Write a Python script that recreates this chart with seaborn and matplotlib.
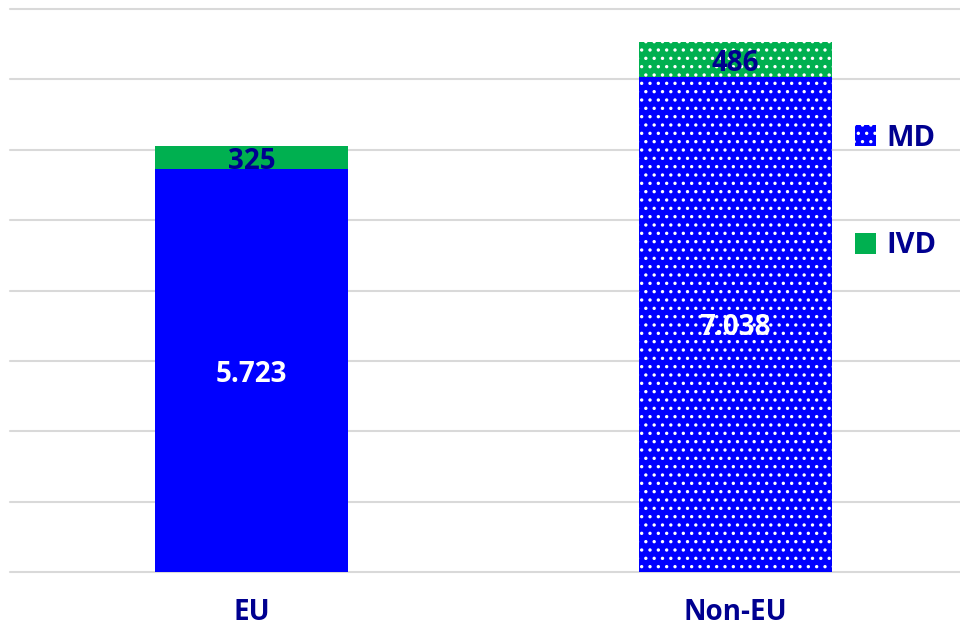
import numpy as np
import pandas as pd
import seaborn as sns
import matplotlib.pyplot as plt
from matplotlib.patches import Patch

# data
regions = ['EU', 'Non-EU']
md_values = [5723, 7038]
ivd_values = [325, 486]
legend_labels = ['MD', 'IVD']

blue = '#0000FF'
green = '#00B050'
navy = '#000090'

sns.set_theme(style='white')
plt.rcParams['font.family'] = ['Open Sans', 'DejaVu Sans']
plt.rcParams['hatch.color'] = 'white'
plt.rcParams['hatch.linewidth'] = 1.2

df = pd.DataFrame({'region': regions, 'MD': md_values, 'IVD': ivd_values})
df['total'] = df['MD'] + df['IVD']

fig = plt.figure(figsize=(9.6, 6.26), dpi=100)
ax = fig.add_axes([10 / 960, 1 - 572 / 626, 950 / 960, (572 - 9) / 626])

# stacked bars: draw totals in green, then MD on top in blue
sns.barplot(data=df, x='region', y='total', color=green, width=0.4,
            saturation=1, ax=ax, zorder=2, linewidth=0)
sns.barplot(data=df, x='region', y='MD', color=blue, width=0.4,
            saturation=1, ax=ax, zorder=3, linewidth=0)

# the Non-EU bars have the white dotted pattern
for p in ax.patches:
    if abs(p.get_x() + p.get_width() / 2 - 1) < 0.01:
        p.set_hatch('..')
        p.set_edgecolor('white')
        p.set_linewidth(0)

ax.set_ylim(0, 8000)
ax.set_xlim(-0.499, 1.464)
ax.set_yticks(np.arange(0, 8001, 1000))
ax.yaxis.grid(True, color='#d9d9d9', linewidth=1.5, zorder=0)
for gl in ax.get_ygridlines():
    gl.set_clip_on(False)
ax.set_axisbelow(True)
ax.tick_params(axis='y', left=False, labelleft=False)
ax.tick_params(axis='x', bottom=False, pad=13)
for lbl in ax.get_xticklabels():
    lbl.set_fontsize(20)
    lbl.set_fontweight('bold')
    lbl.set_color(navy)
ax.set_xlabel('')
ax.set_ylabel('')
sns.despine(ax=ax, left=True, bottom=True)

# value labels
for i in range(len(regions)):
    md = md_values[i]
    ivd = ivd_values[i]
    ax.text(i, md / 2, f'{md / 1000:.3f}', ha='center', va='center_baseline',
            color='white', fontsize=20, fontweight='bold', zorder=5)
    ax.text(i, md + ivd / 2, str(ivd), ha='center', va='center_baseline',
            color=navy, fontsize=20, fontweight='bold', zorder=5)

handles = [Patch(facecolor=blue, edgecolor='white', hatch='..', linewidth=0),
           Patch(facecolor=green, linewidth=0)]
leg = fig.legend(handles, legend_labels, loc='center left',
                 bbox_to_anchor=(855 / 960, 1 - 192 / 626), frameon=False,
                 handlelength=0.72, handleheight=0.72, handletextpad=0.35,
                 labelspacing=2.7, borderpad=0, borderaxespad=0,
                 prop={'size': 21, 'weight': 'bold'})
for t in leg.get_texts():
    t.set_color(navy)

fig.savefig('out.png', dpi=100)
